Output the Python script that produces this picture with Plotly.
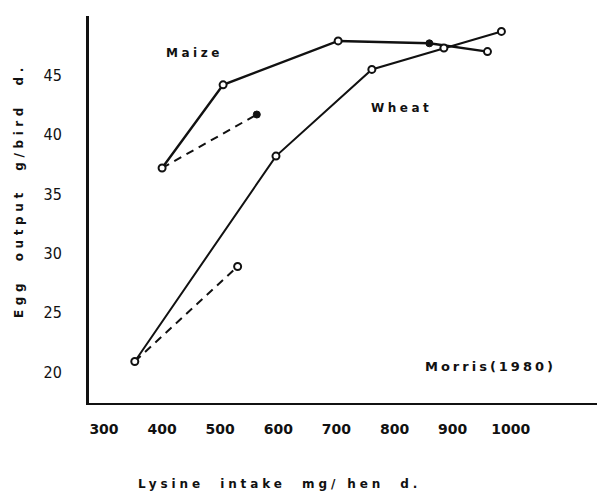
import plotly.graph_objects as go

# Data
maize_x = [400, 505, 703, 860, 960]
maize_y = [37.2, 44.2, 47.9, 47.7, 47.0]
maize_filled = [False, False, False, True, False]
maize_dash_x = [400, 563]
maize_dash_y = [37.2, 41.7]

wheat_x = [353, 596, 761, 885, 984]
wheat_y = [20.9, 38.2, 45.5, 47.3, 48.7]
wheat_dash_x = [353, 530]
wheat_dash_y = [20.9, 28.9]

x_ticks = [300, 400, 500, 600, 700, 800, 900, 1000]
y_ticks = [20, 25, 30, 35, 40, 45]

W, H = 597, 491
L, T, R, B = 89, 16, 0, 88
pw, ph = W - L - R, H - T - B

def px(x):
    return (x - L) / pw

def py(y):
    return (H - B - y) / ph

fig = go.Figure()
lc = "#111111"
fig.add_trace(go.Scatter(x=maize_dash_x, y=maize_dash_y, mode="lines",
                         line=dict(color=lc, width=2, dash="8px,6px"), showlegend=False))
fig.add_trace(go.Scatter(x=wheat_dash_x, y=wheat_dash_y, mode="lines",
                         line=dict(color=lc, width=2, dash="8px,6px"), showlegend=False))
fig.add_trace(go.Scatter(x=maize_x, y=maize_y, mode="lines",
                         line=dict(color=lc, width=2.4), showlegend=False))
fig.add_trace(go.Scatter(x=wheat_x, y=wheat_y, mode="lines",
                         line=dict(color=lc, width=2), showlegend=False))

# markers
ox = [x for x, f in zip(maize_x, maize_filled) if not f] + wheat_x + [wheat_dash_x[1]]
oy = [y for y, f in zip(maize_y, maize_filled) if not f] + wheat_y + [wheat_dash_y[1]]
fx = [x for x, f in zip(maize_x, maize_filled) if f] + [maize_dash_x[1]]
fy = [y for y, f in zip(maize_y, maize_filled) if f] + [maize_dash_y[1]]
fig.add_trace(go.Scatter(x=ox, y=oy, mode="markers",
                         marker=dict(symbol="circle", size=7, color="white",
                                     line=dict(color=lc, width=2)), showlegend=False))
fig.add_trace(go.Scatter(x=fx, y=fy, mode="markers",
                         marker=dict(symbol="circle", size=7, color=lc,
                                     line=dict(color=lc, width=1)), showlegend=False))

def spaced(t, ls):
    return f'<span style="letter-spacing:{ls}px">{t}</span>'

bold = "DejaVu Sans"
anns = [
    dict(text=spaced("<b>Maize</b>", 3.5), x=px(194), y=py(53), size=12),
    dict(text=spaced("<b>Wheat</b>", 3.5), x=px(401), y=py(108), size=12),
    dict(text=spaced("<b>Morris(1980)</b>", 3.0), x=px(490), y=py(366), size=13),
    dict(text=spaced("<b>Lysine  intake  mg/ hen  d.</b>", 3.9), x=px(279), y=py(484), size=12),
]
for a in anns:
    fig.add_annotation(text=a["text"], x=a["x"], y=a["y"], xref="paper", yref="paper",
                       showarrow=False, xanchor="center", yanchor="middle",
                       font=dict(family=bold, size=a["size"], color=lc))
fig.add_annotation(text=spaced("<b>Egg  output  g/bird  d.</b>", 4.6), x=px(19), y=py(191),
                   xref="paper", yref="paper", showarrow=False, textangle=-90,
                   xanchor="center", yanchor="middle",
                   font=dict(family=bold, size=12, color=lc))

fig.update_layout(
    width=W, height=H, margin=dict(l=L, r=R, t=T, b=B),
    plot_bgcolor="white", paper_bgcolor="white",
    xaxis=dict(range=[274.2, 1148.5], tickvals=x_ticks, showgrid=False, zeroline=False,
               showline=True, linecolor=lc, linewidth=2, ticks="",
               ticklabelstandoff=12,
               tickfont=dict(family=bold, size=14, color=lc, weight="bold")),
    yaxis=dict(range=[17.4, 50.0], tickvals=y_ticks, showgrid=False, zeroline=False,
               showline=True, linecolor=lc, linewidth=3, ticks="",
               ticklabelstandoff=21,
               tickfont=dict(family="DejaVu Sans Condensed", size=16, color=lc)),
)
fig.write_html("out.html", post_script="document.body.style.margin='0';",
               config={"displayModeBar": False})
